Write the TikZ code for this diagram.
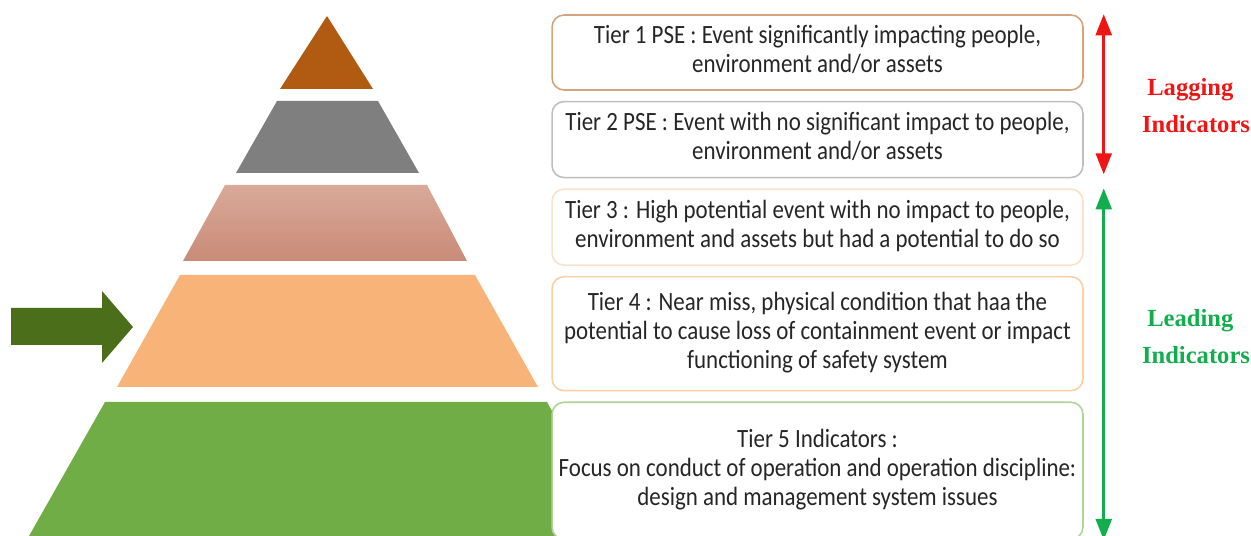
\documentclass[tikz,border=0pt]{standalone}
\usepackage{fontspec}
\setmainfont{Carlito}
\newfontfamily\labelfont{Liberation Serif}
\usepackage{graphicx}
\usepackage{xcolor}
\usepackage{tikz}
\usetikzlibrary{positioning,arrows.meta}

\definecolor{tierone}{HTML}{B05A12}
\definecolor{tiertwo}{HTML}{7F7F7F}
\definecolor{tierthreetop}{HTML}{D9A999}
\definecolor{tierthreebot}{HTML}{C98B77}
\definecolor{tierfour}{HTML}{F8B378}
\definecolor{tierfive}{HTML}{70AD47}
\definecolor{pointer}{HTML}{4B6E1B}
\definecolor{lagred}{HTML}{EE1515}
\definecolor{leadgreen}{HTML}{12AE4E}
\definecolor{txt}{HTML}{262626}

% narrow centred lines for the tier boxes
\newcommand{\tiertext}[1]{\raisebox{-2pt}{\scalebox{0.87}[1]{\begin{tabular}{@{}c@{}}#1\end{tabular}}}}

\begin{document}
\begin{tikzpicture}[
  x=0.02cm, y=-0.02cm,
  box/.style={draw, rounded corners=0.24cm, fill=white, line width=0.9pt,
              minimum width=10.62cm, inner xsep=0.05cm, text=txt,
              font=\fontsize{15}{16.6}\selectfont},
  arr/.style={{Triangle[width=9pt,length=12pt]}-{Triangle[width=9pt,length=12pt]},
              line width=1.7pt},
  lbl/.style={align=left, font=\labelfont\bfseries\fontsize{14}{21}\selectfont},
  node distance=0.2cm
]
\useasboundingbox (0,0) rectangle (1251,536);

% pyramid layers, top to bottom
\fill[tierone]  (327,16) -- (373,89) -- (280,89) -- cycle;
\fill[tiertwo]  (277,101) -- (378,101) -- (419,173) -- (236,173) -- cycle;
\shade[top color=tierthreetop, bottom color=tierthreebot]
                (225,185) -- (427,185) -- (467,261) -- (183,261) -- cycle;
\fill[tierfour] (180,275) -- (475,275) -- (538,387) -- (117,387) -- cycle;
\fill[tierfive] (105,402) -- (547,402) -- (622,536) -- (29,536) -- cycle;

% pointer at tier 4
\fill[pointer] (11,308) -- (102,308) -- (102,291) -- (133,327)
               -- (102,363) -- (102,345) -- (11,345) -- cycle;

% tier descriptions
\node[box, draw=tierone!55, minimum height=1.5cm] (tier1) at (817.5,52.5)
  {\tiertext{Tier 1 PSE : Event significantly impacting people,\\ environment and/or assets}};
\node[box, draw=black!25, minimum height=1.52cm, below=of tier1] (tier2)
  {\tiertext{Tier 2 PSE : Event with no significant impact to people,\\ environment and/or assets}};
\node[box, draw=tierfour!40, minimum height=1.52cm, below=of tier2] (tier3)
  {\tiertext{Tier 3 : High potential event with no impact to people,\\ environment and assets but had a potential to do so}};
\node[box, draw=tierfour!65, minimum height=2.28cm, below=of tier3] (tier4)
  {\tiertext{Tier 4 : Near miss, physical condition that haa the\\ potential to cause loss of containment event or impact\\ functioning of safety system}};
\node[box, draw=tierfive!55, minimum height=2.74cm, below=of tier4] (tier5)
  {\tiertext{Tier 5 Indicators :\\ Focus on conduct of operation and operation discipline:\\ design and management system issues}};

% indicator ranges
\draw[arr, lagred]    ([xshift=0.4cm]tier1.north east) -- ([xshift=0.4cm,yshift=0.08cm]tier2.south east);
\draw[arr, leadgreen] ([xshift=0.4cm]tier3.north east) -- ([xshift=0.4cm]tier5.south east);

\node[lbl, text=lagred]    (lag)  at (1196,106) {\hspace{3pt}Lagging\\Indicators};
\node[lbl, text=leadgreen] (lead) at (1196,337) {\hspace{3pt}Leading\\Indicators};
\end{tikzpicture}
\end{document}
